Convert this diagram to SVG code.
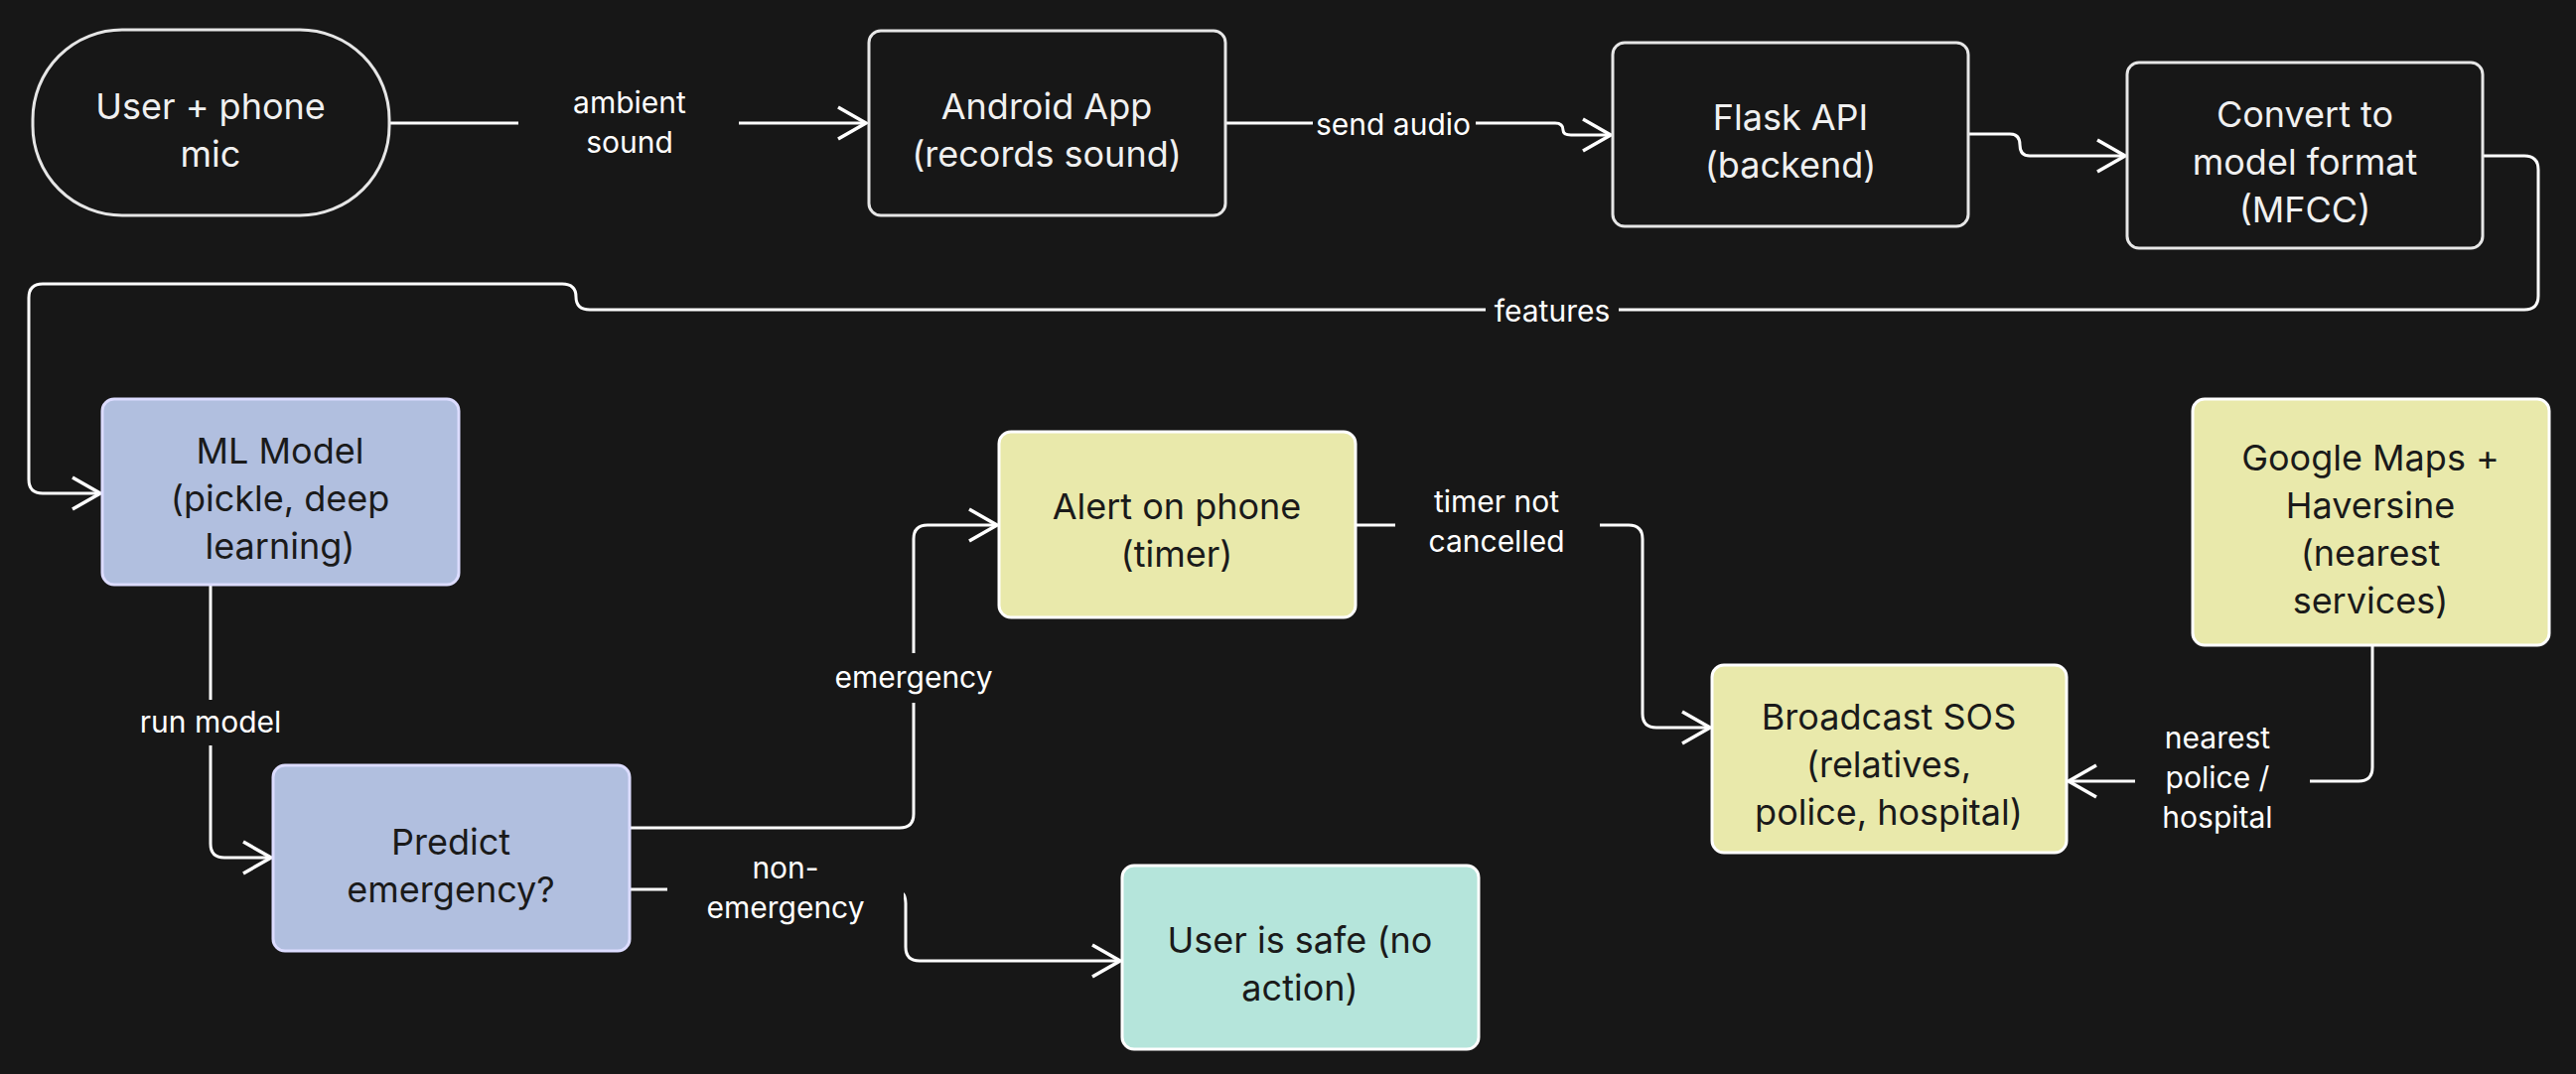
<svg xmlns="http://www.w3.org/2000/svg" width="2594" height="1082" viewBox="0 0 2594 1082">
<defs>
<marker id="ah" markerUnits="userSpaceOnUse" markerWidth="40" markerHeight="40" refX="36" refY="20" orient="auto" viewBox="0 0 40 40">
<path d="M8,4 L36,20 L8,36" fill="none" stroke="#ffffff" stroke-width="3.5"/>
</marker>
<style>
.n{stroke-width:3;}
.dk{fill:#171717;stroke:#e6e6e6;}
.bl{fill:#b1bfdf;stroke:#dcdcff;}
.yl{fill:#e9e9ab;stroke:#ffffff;}
.tl{fill:#b5e5db;stroke:#ffffff;}
.t{font-family:Inter,"Noto Sans","Liberation Sans",sans-serif;font-size:36px;text-anchor:middle;}
.tw{fill:#f0f0f0;}
.tb{fill:#1a1a1a;}
.e{fill:none;stroke:#ffffff;stroke-width:3;}
.lb{font-family:Inter,"Noto Sans","Liberation Sans",sans-serif;font-size:30px;fill:#ffffff;text-anchor:middle;}
.bg{fill:#171717;}
</style>
</defs>
<rect width="2594" height="1082" fill="#171717"/>
<g id="connectors">
<path class="e" d="M392,124 H872" marker-end="url(#ah)"/>
<rect class="bg" x="522" y="80" width="222" height="84"/>
<text class="lb" x="634" y="114">ambient</text>
<text class="lb" x="634" y="154">sound</text>
<path class="e" d="M1234,124 H1566 Q1574,124 1574,131 Q1574,136 1582,136 H1622" marker-end="url(#ah)"/>
<rect class="bg" x="1322" y="106" width="164" height="40"/>
<text class="lb" x="1403" y="136">send audio</text>
<path class="e" d="M1982,135 H2024 Q2034,135 2034,146 Q2034,157 2044,157 H2140" marker-end="url(#ah)"/>
<path class="e" d="M2500,157 H2542 Q2556,157 2556,171 V298 Q2556,312 2542,312 H594 Q580,312 580,299 Q580,286 566,286 H43 Q29,286 29,300 V483 Q29,497 43,497 H101" marker-end="url(#ah)"/>
<rect class="bg" x="1496" y="292" width="134" height="40"/>
<text class="lb" x="1563" y="324">features</text>
<path class="e" d="M212,589 V850 Q212,864 226,864 H273" marker-end="url(#ah)"/>
<rect class="bg" x="130" y="705" width="164" height="46"/>
<text class="lb" x="212" y="738">run model</text>
<path class="e" d="M634,834 H906 Q920,834 920,820 V543 Q920,529 934,529 H1004" marker-end="url(#ah)"/>
<rect class="bg" x="830" y="658" width="180" height="50"/>
<text class="lb" x="920" y="693">emergency</text>
<path class="e" d="M634,896 H898 Q912,896 912,910 V954 Q912,968 926,968 H1128" marker-end="url(#ah)"/>
<rect class="bg" x="672" y="848" width="238" height="84"/>
<text class="lb" x="791" y="885">non-</text>
<text class="lb" x="791" y="925">emergency</text>
<path class="e" d="M1365,529 H1640 Q1654,529 1654,543 V719 Q1654,733 1668,733 H1722" marker-end="url(#ah)"/>
<rect class="bg" x="1405" y="480" width="206" height="84"/>
<text class="lb" x="1507" y="516">timer not</text>
<text class="lb" x="1507" y="556">cancelled</text>
<path class="e" d="M2389,650 V773 Q2389,787 2375,787 H2083" marker-end="url(#ah)"/>
<rect class="bg" x="2150" y="718" width="176" height="124"/>
<text class="lb" x="2233" y="754">nearest</text>
<text class="lb" x="2233" y="794">police /</text>
<text class="lb" x="2233" y="834">hospital</text>
</g>
<g id="user"><rect class="n dk" x="33" y="30" width="359" height="187" rx="90"/><text class="t tw" x="212" y="120">User + phone</text><text class="t tw" x="212" y="168">mic</text></g>
<g id="android"><rect class="n dk" x="875" y="31" width="359" height="186" rx="12"/><text class="t tw" x="1054" y="120">Android App</text><text class="t tw" x="1054" y="168">(records sound)</text></g>
<g id="flask"><rect class="n dk" x="1624" y="43" width="358" height="185" rx="12"/><text class="t tw" x="1803" y="131">Flask API</text><text class="t tw" x="1803" y="179">(backend)</text></g>
<g id="convert"><rect class="n dk" x="2142" y="63" width="358" height="187" rx="12"/><text class="t tw" x="2321" y="128">Convert to</text><text class="t tw" x="2321" y="176">model format</text><text class="t tw" x="2321" y="224">(MFCC)</text></g>
<g id="ml"><rect class="n bl" x="103" y="402" width="359" height="187" rx="12"/><text class="t tb" x="282" y="467">ML Model</text><text class="t tb" x="282" y="515">(pickle, deep</text><text class="t tb" x="282" y="563">learning)</text></g>
<g id="predict"><rect class="n bl" x="275" y="771" width="359" height="187" rx="12"/><text class="t tb" x="454" y="861">Predict</text><text class="t tb" x="454" y="909">emergency?</text></g>
<g id="alert"><rect class="n yl" x="1006" y="435" width="359" height="187" rx="12"/><text class="t tb" x="1185" y="523">Alert on phone</text><text class="t tb" x="1185" y="571">(timer)</text></g>
<g id="maps"><rect class="n yl" x="2208" y="402" width="359" height="248" rx="12"/><text class="t tb" x="2387" y="474">Google Maps +</text><text class="t tb" x="2387" y="522">Haversine</text><text class="t tb" x="2387" y="570">(nearest</text><text class="t tb" x="2387" y="618">services)</text></g>
<g id="sos"><rect class="n yl" x="1724" y="670" width="357" height="189" rx="12"/><text class="t tb" x="1902" y="735">Broadcast SOS</text><text class="t tb" x="1902" y="783">(relatives,</text><text class="t tb" x="1902" y="831">police, hospital)</text></g>
<g id="safe"><rect class="n tl" x="1130" y="872" width="359" height="185" rx="12"/><text class="t tb" x="1309" y="960">User is safe (no</text><text class="t tb" x="1309" y="1008">action)</text></g>
</svg>
